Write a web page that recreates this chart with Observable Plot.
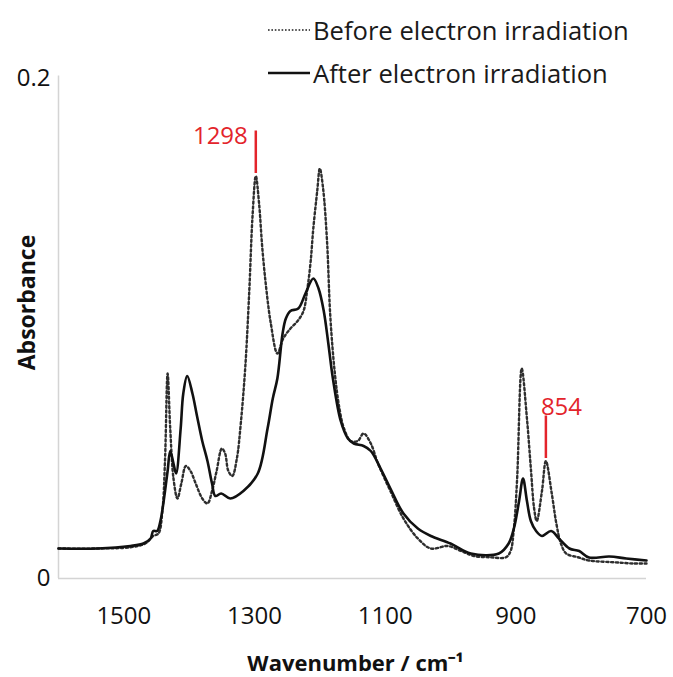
<!DOCTYPE html>
<html>
<head>
<meta charset="utf-8">
<script src="https://cdn.jsdelivr.net/npm/d3@7"></script>
<script src="https://cdn.jsdelivr.net/npm/@observablehq/plot@0.6"></script>
<style>
  html, body { margin: 0; padding: 0; background: #fff; }
  #wrap { position: relative; width: 673px; height: 677px; font-family: "Open Sans", sans-serif; }
  .leg { position: absolute; left: 268px; height: 34px; display: flex; align-items: center; font-size: 25.6px; color: #1a1a1a; white-space: nowrap; }
  .leg svg { margin-right: 3px; }
</style>
</head>
<body>
<div id="wrap">
  <div class="leg" style="top:13px"><svg width="42" height="6"><line x1="0" x2="42" y1="3" y2="3" stroke="#555" stroke-width="2" stroke-dasharray="1.6,1.8"/></svg><span id="l1"></span></div>
  <div class="leg" style="top:56px"><svg width="42" height="6"><line x1="0" x2="42" y1="3" y2="3" stroke="#111" stroke-width="2.5"/></svg><span id="l2"></span></div>
</div>
<script>
// ---- data ----
const seriesNames = ["Before electron irradiation", "After electron irradiation"];

const wnBefore = [1600,1540,1490,1467,1455,1447,1441,1437,1433,1429,1424,1418,1412,1405,1398,1390,1380,1372,1365,1358,1350,1345,1340,1334,1327,1321,1314,1308,1303,1298,1293,1288,1282,1275,1265,1256,1245,1234,1225,1219,1214,1210,1204,1200,1195,1189,1184,1177,1170,1163,1153,1142,1133,1122,1111,1092,1072,1050,1030,1004,984,964,940,915,908,903,898,891,883,877,872,868,860,854,845,838,831,823,805,788,750,720,700];
const absBefore = [0.012,0.012,0.0125,0.014,0.017,0.018,0.027,0.047,0.082,0.060,0.040,0.032,0.038,0.045,0.043,0.038,0.032,0.030,0.035,0.043,0.052,0.050,0.043,0.041,0.048,0.062,0.085,0.115,0.145,0.161,0.150,0.132,0.116,0.102,0.090,0.096,0.100,0.103,0.107,0.116,0.127,0.140,0.155,0.164,0.156,0.135,0.105,0.082,0.068,0.060,0.055,0.055,0.058,0.054,0.046,0.035,0.024,0.016,0.012,0.013,0.011,0.009,0.0085,0.0085,0.011,0.020,0.040,0.084,0.064,0.044,0.028,0.023,0.035,0.047,0.034,0.022,0.014,0.010,0.0085,0.0072,0.0065,0.006,0.006];

const wnAfter = [1600,1540,1490,1470,1459,1455,1449,1444,1439,1433,1429,1424,1420,1413,1409,1403,1395,1388,1380,1372,1365,1360,1351,1337,1317,1295,1280,1272,1265,1257,1252,1245,1233,1222,1210,1202,1194,1187,1180,1168,1157,1148,1133,1122,1107,1092,1072,1050,1030,1000,969,926,911,903,895,889,883,877,869,860,846,834,818,803,788,757,731,700];
const absAfter = [0.012,0.012,0.013,0.014,0.016,0.019,0.019,0.023,0.031,0.043,0.051,0.046,0.042,0.060,0.074,0.081,0.074,0.065,0.055,0.047,0.038,0.033,0.034,0.032,0.035,0.042,0.060,0.072,0.080,0.098,0.104,0.107,0.108,0.114,0.120,0.116,0.107,0.094,0.080,0.063,0.056,0.054,0.053,0.051,0.044,0.036,0.026,0.020,0.017,0.014,0.010,0.010,0.014,0.020,0.031,0.040,0.031,0.023,0.019,0.017,0.019,0.016,0.012,0.011,0.0084,0.0088,0.008,0.0072];

const xTicks = [1500, 1300, 1100, 900, 700];
const yTicks = [0, 0.2];
const yTickLabels = ["0", "0.2"];

const peakLabels = ["1298", "854"];
const peakWn = [1298, 854];
const peakLineBottom = [0.162, 0.048];
const peakLineTop = [0.179, 0.065];
const peakTextY = [0.177, 0.0685];

const axisTitles = {x: "Wavenumber / cm\u207B\u00B9", y: "Absorbance"};

// ---- build ----
document.getElementById("l1").textContent = seriesNames[0];
document.getElementById("l2").textContent = seriesNames[1];

const before = wnBefore.map((w, i) => ({wn: w, a: absBefore[i]}));
const after = wnAfter.map((w, i) => ({wn: w, a: absAfter[i]}));
const peaks = peakLabels.map((t, i) => ({t, wn: peakWn[i], y1: peakLineBottom[i], y2: peakLineTop[i], ty: peakTextY[i]}));
const red = "#e3242b";

const chart = Plot.plot({
  width: 673,
  height: 677,
  marginTop: 78,
  marginRight: 27,
  marginBottom: 99,
  marginLeft: 58,
  style: {fontFamily: "Open Sans, sans-serif", fontSize: "24px", color: "#111", background: "transparent"},
  x: {domain: [1600, 700], type: "linear"},
  y: {domain: [0, 0.2]},
  marks: [
    Plot.ruleY([0], {stroke: "#d4d4d4", strokeWidth: 1.5}),
    Plot.ruleX([1600], {y1: 0, y2: 0.201, stroke: "#d4d4d4", strokeWidth: 1.5}),
    Plot.axisX({ticks: xTicks, tickSize: 0, tickPadding: 28, tickFormat: d => String(d), label: null, fontSize: 24}),
    Plot.axisY({ticks: yTicks, tickSize: 0, tickPadding: 8, tickFormat: d => yTickLabels[yTicks.indexOf(d)], label: null, fontSize: 24}),
    Plot.line(before, {x: "wn", y: "a", stroke: "#2e2e2e", strokeWidth: 2.4, strokeDasharray: "2.2,2.6", curve: "catmull-rom"}),
    Plot.line(after, {x: "wn", y: "a", stroke: "#111", strokeWidth: 2.6, curve: "catmull-rom"}),
    Plot.ruleX(peaks, {x: "wn", y1: "y1", y2: "y2", stroke: red, strokeWidth: 2.5}),
    Plot.text(peaks.slice(0, 1), {x: "wn", y: "ty", text: "t", fill: red, textAnchor: "end", dx: -8, fontSize: 24}),
    Plot.text(peaks.slice(1), {x: "wn", y: "ty", text: "t", fill: red, textAnchor: "start", dx: -5, fontSize: 24}),
    Plot.text([axisTitles.y], {frameAnchor: "left", textAnchor: "middle", lineAnchor: "middle", rotate: -90, dx: -31, dy: -26, fontWeight: "bold", fontSize: 23, fill: "#111"}),
    Plot.text([axisTitles.x], {frameAnchor: "bottom", textAnchor: "middle", lineAnchor: "middle", dx: 3, dy: 85, fontWeight: "bold", fontSize: 22, fill: "#111"})
  ]
});
document.getElementById("wrap").prepend(chart);
</script>
</body>
</html>
